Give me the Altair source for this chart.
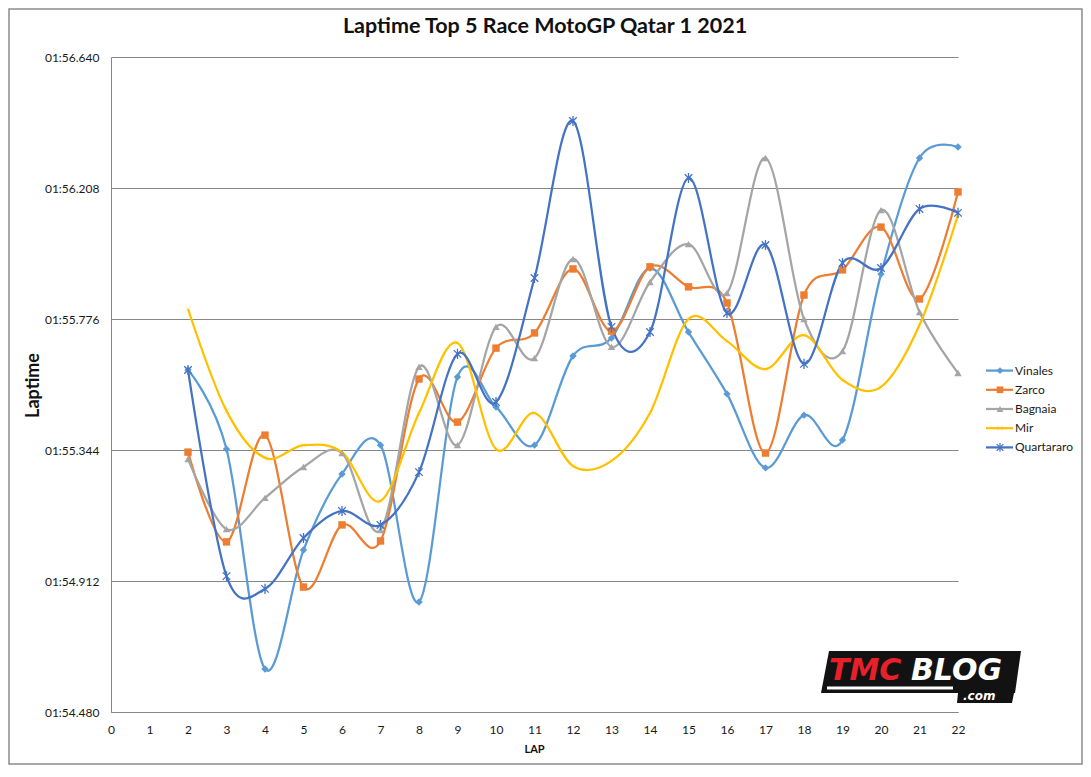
import altair as alt
import pandas as pd

title_text = "Laptime Top 5 Race MotoGP Qatar 1 2021"
riders = ["Vinales", "Zarco", "Bagnaia", "Mir", "Quartararo"]
colors = ["#5B9BD5", "#ED7D31", "#A5A5A5", "#FFC000", "#4472C4"]
laps = list(range(2, 23))

# lap times in seconds (01:55.608 -> 115.608)
vinales = [115.608, 115.347, 114.622, 115.014, 115.265, 115.360, 114.843, 115.585, 115.486, 115.360,
           115.654, 115.713, 115.944, 115.733, 115.529, 115.285, 115.459, 115.377, 115.924, 116.307, 116.343]
zarco = [115.337, 115.041, 115.393, 114.892, 115.097, 115.044, 115.578, 115.436, 115.680, 115.730,
         115.941, 115.736, 115.948, 115.882, 115.829, 115.334, 115.855, 115.938, 116.079, 115.842, 116.195]
bagnaia = [115.314, 115.083, 115.186, 115.288, 115.334, 115.080, 115.618, 115.360, 115.750, 115.647,
           115.974, 115.684, 115.898, 116.023, 115.862, 116.307, 115.776, 115.670, 116.135, 115.799, 115.598]
mir = [115.809, 115.473, 115.318, 115.360, 115.337, 115.176, 115.466, 115.697, 115.347, 115.466,
       115.291, 115.308, 115.466, 115.776, 115.703, 115.611, 115.723, 115.575, 115.552, 115.756, 116.119]
quartararo = [115.608, 114.928, 114.886, 115.054, 115.143, 115.097, 115.271, 115.661, 115.502, 115.911,
              116.429, 115.750, 115.733, 116.241, 115.796, 116.020, 115.628, 115.961, 115.944, 116.139, 116.126]

y_ticks = [114.480, 114.912, 115.344, 115.776, 116.208, 116.640]
x_ticks = list(range(0, 23))

series = {"Vinales": vinales, "Zarco": zarco, "Bagnaia": bagnaia, "Mir": mir, "Quartararo": quartararo}
rows = []
for r in riders:
    for lap, t in zip(laps, series[r]):
        rows.append({"rider": r, "lap": lap, "time": t})
df = pd.DataFrame(rows)
legend_df = pd.DataFrame({"rider": riders})
one = pd.DataFrame({"t": [title_text]})

GRID = "#878787"
FONT = "Lato"
LOGO_FONT = "DejaVu Sans"
XMARK = "M-1,-1L1,1M-1,1L1,-1"
ASTER = "M-0.9,-0.9L0.9,0.9M-0.9,0.9L0.9,-0.9M0,-1.2L0,1.2"
shapes = ["diamond", "square", "triangle-up", XMARK, ASTER]
PARA = "M-0.92,-0.23L1,-0.23L0.94,0.19L0.93,0.19L0.91,0.29L0.36,0.29L0.37,0.19L-1,0.19Z"

color = alt.Color("rider:N", scale=alt.Scale(domain=riders, range=colors), legend=None)
shape = alt.Shape("rider:N", scale=alt.Scale(domain=riders, range=shapes), legend=None)

x = alt.X("lap:Q", scale=alt.Scale(domain=[0, 22], nice=False, zero=False),
          axis=alt.Axis(values=x_ticks, format="d", title="LAP", grid=False, ticks=False, tickSize=0,
                        labelOverlap=False, labelFlush=False,
                        labelPadding=12, domainColor=GRID, domainWidth=1, labelFontSize=12,
                        labelColor="#1a1a1a", titleX=423, titleY=37, titleBaseline="middle",
                        titleFontWeight="bold", titleFontSize=11, titleColor="#111"))
y = alt.Y("time:Q", scale=alt.Scale(domain=[114.48, 116.64], nice=False, zero=False),
          axis=alt.Axis(values=y_ticks, labelExpr="'01:' + format(datum.value - 60, '06.3f')",
                        title="Laptime", grid=True, gridColor=GRID, gridWidth=1, ticks=False, tickSize=0,
                        labelOverlap=False, labelFlush=False,
                        labelPadding=12, domainColor=GRID, domainWidth=1, labelFontSize=12,
                        labelColor="#1a1a1a", titleX=-78, titleY=328, titleBaseline="middle",
                        titleFontSize=18, titleFontWeight="bold", titleColor="#111"))

lines = alt.Chart(df).mark_line(interpolate="cardinal", tension=0, strokeWidth=2.25).encode(
    x=x, y=y, color=color)
pts_filled = alt.Chart(df).transform_filter(
    alt.FieldOneOfPredicate(field="rider", oneOf=riders[:3])
).mark_point(filled=True, size=55, opacity=1).encode(
    x=x, y=y, color=color, shape=shape)
pts_mir = alt.Chart(df).transform_filter(
    alt.FieldEqualPredicate(field="rider", equal="Mir")
).mark_point(filled=False, size=30, opacity=0.35, strokeWidth=1).encode(
    x=x, y=y, color=color, shape=shape)
pts_q = alt.Chart(df).transform_filter(
    alt.FieldEqualPredicate(field="rider", equal="Quartararo")
).mark_point(filled=False, size=70, opacity=1, strokeWidth=1.3).encode(
    x=x, y=y, color=color, shape=shape)

main = alt.layer(lines, pts_filled, pts_mir, pts_q)

ly = alt.Y("rider:N", scale=alt.Scale(domain=riders, range=[304, 400], padding=0), axis=None)
l_rule = alt.Chart(legend_df).mark_rule(strokeWidth=2.25).encode(
    x=alt.value(875), x2=alt.value(902), y=ly, color=color)
l_pf = alt.Chart(legend_df).transform_filter(
    alt.FieldOneOfPredicate(field="rider", oneOf=riders[:3])
).mark_point(filled=True, size=45, opacity=1).encode(x=alt.value(889), y=ly, color=color, shape=shape)
l_pm = alt.Chart(legend_df).transform_filter(
    alt.FieldEqualPredicate(field="rider", equal="Mir")
).mark_point(filled=False, size=25, opacity=0.35, strokeWidth=1).encode(x=alt.value(889), y=ly, color=color, shape=shape)
l_pq = alt.Chart(legend_df).transform_filter(
    alt.FieldEqualPredicate(field="rider", equal="Quartararo")
).mark_point(filled=False, size=55, opacity=1, strokeWidth=1.2).encode(x=alt.value(889), y=ly, color=color, shape=shape)
l_text = alt.Chart(legend_df).mark_text(align="left", baseline="middle", fontSize=12, color="#1a1a1a").encode(
    x=alt.value(904), y=ly, text="rider:N")
legend = alt.layer(l_rule, l_pf, l_pm, l_pq, l_text)

title_mark = alt.Chart(one).mark_text(align="center", baseline="middle", fontSize=21.5,
                                      fontWeight="bold", color="#111").encode(
    x=alt.value(434), y=alt.value(-30), text="t:N")

border = alt.Chart(one).mark_rect(fillOpacity=0, stroke="#8c8c8c", strokeWidth=1.5).encode(
    x=alt.value(-102), x2=alt.value(971), y=alt.value(-48), y2=alt.value(707))

logo_bg = alt.Chart(one).mark_point(shape=PARA, filled=True, color="#121212", size=40000, opacity=1).encode(
    x=alt.value(810), y=alt.value(617))
logo_tmc = alt.Chart(one).mark_text(text="TMC", font=LOGO_FONT, fontStyle="italic", fontWeight="bold",
                                    fontSize=30, color="#E8202A", align="left", baseline="alphabetic").encode(
    x=alt.value(718), y=alt.value(623))
logo_blog = alt.Chart(one).mark_text(text="BLOG", font=LOGO_FONT, fontStyle="italic", fontWeight="bold",
                                     fontSize=30, color="#ffffff", align="left", baseline="alphabetic").encode(
    x=alt.value(800), y=alt.value(623))
logo_bar = alt.Chart(one).mark_rule(color="#ffffff", strokeWidth=3).encode(
    x=alt.value(716), x2=alt.value(842), y=alt.value(631))
logo_com = alt.Chart(one).mark_text(text=".com", font=LOGO_FONT, fontStyle="italic", fontWeight="bold",
                                    fontSize=12, color="#ffffff", align="left", baseline="alphabetic").encode(
    x=alt.value(852), y=alt.value(643))

chart = alt.layer(
    border, main, legend, title_mark, logo_bg, logo_tmc, logo_blog, logo_bar, logo_com
).resolve_scale(y="independent").properties(
    width=847, height=655,
    autosize=alt.AutoSizeParams(type="none"),
    padding={"left": 103, "top": 49, "right": 125, "bottom": 53},
    background="white",
).configure_view(stroke=None).configure_axis(
    labelFont=FONT, titleFont=FONT, labelOverlap=False
).configure_text(font=FONT)

chart.save("out.html", embed_options={"renderer": "svg", "actions": False})
